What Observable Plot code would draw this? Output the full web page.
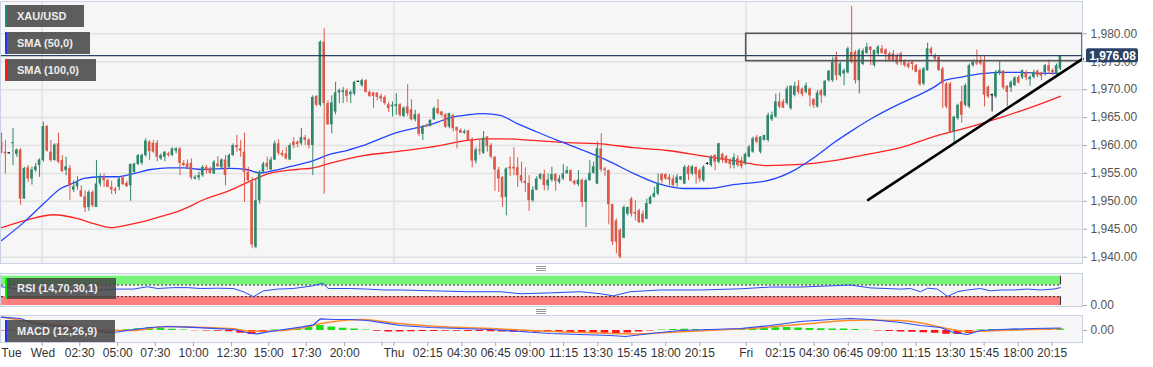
<!DOCTYPE html>
<html><head><meta charset="utf-8">
<script src="https://cdn.jsdelivr.net/npm/d3@7"></script>
<script src="https://cdn.jsdelivr.net/npm/@observablehq/plot@0.6"></script>
<style>
body{margin:0;background:#fff;font-family:"Liberation Sans",Arial,sans-serif;}
#wrap{position:relative;width:1153px;height:367px;overflow:hidden;}
#wrap svg{display:block;}
.lg{position:absolute;left:5px;background:rgba(68,68,68,0.86);color:#ececec;font:bold 11px "Liberation Sans",Arial,sans-serif;padding-left:12px;box-sizing:border-box;white-space:nowrap;}
.lg i{position:absolute;left:0;top:0;width:2px;height:100%;}
.grip{position:absolute;left:536px;width:10px;height:1px;background:#999;}
</style></head>
<body><div id="wrap"></div>
<script>
// ---------- candle data (15-minute XAU/USD) ----------
const open = [1960.6,1958.8,1958.6,1960.3,1958.4,1959.2,1950.4,1956.0,1954.0,1955.5,
1956.4,1957.3,1963.4,1958.8,1957.3,1960.3,1957.3,1955.5,1955.9,1952.0,
1952.6,1951.9,1950.8,1948.9,1951.6,1948.9,1953.1,1954.2,1953.7,1952.5,
1952.2,1952.5,1954.2,1953.2,1952.8,1955.2,1956.6,1956.8,1958.2,1960.6,
1960.4,1960.4,1957.6,1957.9,1958.5,1958.2,1959.0,1959.4,1956.8,1956.7,
1956.8,1954.0,
1954.2,1954.6,1956.1,1955.8,1954.9,1956.7,1956.0,1957.4,1956.1,1958.2,
1960.0,1959.4,1958.8,1955.2,1953.4,1941.8,1950.1,1955.2,1956.8,1955.6,
1957.4,1960.3,1958.6,1958.5,1957.4,1960.6,1960.6,1960.3,1961.4,1961.0,
1960.0,1968.8,1967.2,1978.5,1967.5,1963.7,1966.0,1969.4,1969.5,1969.8,
1969.1,1969.2,1971.4,1970.7,1971.6,1969.5,1969.4,1969.4,1968.8,1968.6,
1967.3,
1966.9,1967.0,1967.3,1965.2,1966.9,1966.4,1964.6,1965.5,1962.0,1963.6,
1963.4,1964.6,1966.6,1966.0,1965.5,1963.3,1965.4,1963.2,1962.7,1962.2,
1962.6,1961.0,1957.2,1959.2,1958.6,1961.5,1960.0,1957.9,1955.6,1954.3,
1950.7,1956.1,1956.1,1956.0,1954.6,1953.6,1953.2,1950.1,1952.0,1954.0,
1954.8,1952.8,1953.8,1954.8,1953.4,1954.0,1955.0,1955.5,1953.6,1953.0,
1953.8,1949.8,1953.7,1955.0,1953.1,1959.4,1955.8,1955.5,1949.4,
1946.5,1944.8,1943.4,1947.7,1950.4,1948.0,1948.3,1947.7,1946.8,1949.5,
1950.7,1951.3,1954.8,1954.8,1954.3,1954.0,1953.2,1953.8,1953.1,1956.1,
1954.9,1956.1,1955.5,1953.7,1956.7,1956.4,1958.2,1957.0,1958.4,1958.0,
1957.3,1956.4,1957.6,1957.3,1956.7,1957.9,1958.8,1961.4,1958.8,1960.9,
1960.9,1964.6,1965.1,1967.8,1967.8,1967.5,1966.6,1969.0,1970.6,1970.1,
1969.5,1970.1,1968.2,1966.9,1969.8,1968.9,1971.6,1971.6,1975.8,1972.5,
1972.8,1973.0,1976.7,1976.7,1971.6,1974.5,1976.5,1977.6,1974.3,1976.4,
1977.3,1977.1,1976.4,1976.4,1976.1,1976.4,1975.1,1974.6,1974.9,1974.3,
1973.4,1971.0,1973.4,1977.3,1976.1,1975.8,1973.7,1971.0,1971.0,1962.4,
1964.8,1967.8,1967.2,1966.9,1974.3,1974.9,1975.2,1974.9,1970.4,1969.0,
1968.7,1973.0,1973.3,1970.6,1970.3,1970.7,1972.2,1972.1,1973.0,1971.8,
1972.2,1973.3,1973.0,1973.0,1974.3,1973.4,1972.8,1973.7];
const high = [1962.2,1960.9,1958.7,1963.0,1959.4,1959.4,1956.1,1956.4,1956.1,1956.8,
1957.6,1964.2,1963.6,1960.9,1960.3,1962.2,1958.2,1957.9,1956.4,1953.7,
1954.4,1952.8,1951.9,1951.9,1951.9,1957.3,1954.9,1954.9,1954.0,1953.6,
1952.5,1954.4,1954.6,1953.6,1956.7,1956.8,1958.4,1958.5,1961.2,1960.9,
1960.9,1960.9,1958.5,1958.9,1958.8,1959.6,1959.6,1959.6,1957.3,1957.4,
1957.6,1954.6,
1955.2,1956.4,1956.4,1956.1,1957.3,1958.0,1957.6,1958.2,1958.5,1960.3,
1961.8,1960.9,1962.2,1956.1,1954.3,1954.0,1955.5,1957.0,1957.9,1957.9,
1960.8,1961.0,1959.1,1959.7,1960.3,1961.4,1960.8,1963.0,1961.8,1961.2,
1968.9,1968.9,1978.7,1980.9,1968.0,1968.9,1971.3,1970.1,1970.4,1970.1,
1969.8,1971.5,1971.5,1971.9,1971.8,1969.8,1969.5,1969.4,1969.2,1968.9,
1967.7,
1967.8,1969.3,1967.5,1966.9,1970.9,1968.2,1966.3,1965.7,1963.6,1963.8,
1964.6,1966.9,1968.2,1966.1,1965.7,1965.8,1965.5,1963.3,1963.0,1962.8,
1962.7,1961.4,1959.6,1960.9,1962.5,1961.6,1960.3,1958.0,1956.1,1954.4,
1956.0,1957.9,1959.6,1957.8,1957.0,1956.0,1954.6,1952.6,1954.4,1955.0,
1955.6,1954.9,1956.1,1955.0,1954.6,1956.6,1956.2,1955.6,1953.8,1955.5,
1954.0,1954.0,1957.3,1957.0,1960.6,1962.1,1956.1,1955.6,1949.5,
1946.8,1945.1,1949.2,1949.0,1950.7,1950.1,1948.6,1948.3,1950.4,1951.0,
1952.5,1954.9,1955.0,1954.9,1954.8,1954.6,1954.8,1954.4,1956.4,1956.4,
1956.4,1956.1,1955.8,1956.4,1956.9,1958.2,1958.4,1960.4,1958.6,1958.2,
1957.6,1958.5,1958.2,1957.9,1958.6,1960.0,1961.5,1961.8,1961.6,1961.8,
1965.8,1966.0,1969.2,1969.4,1968.2,1970.6,1970.7,1971.3,1971.6,1970.3,
1971.2,1970.3,1968.4,1969.8,1970.0,1971.6,1973.4,1975.8,1976.7,1974.9,
1973.7,1977.6,1984.9,1977.0,1977.3,1977.3,1978.3,1977.7,1977.1,1977.9,
1977.9,1977.3,1976.7,1977.0,1976.4,1976.7,1975.3,1974.9,1975.2,1974.5,
1973.7,1974.0,1978.3,1977.6,1976.4,1976.1,1974.0,1971.3,1971.3,1965.2,
1967.4,1970.6,1971.0,1974.6,1975.3,1977.1,1976.1,1976.1,1970.7,1969.2,
1973.4,1975.2,1973.4,1970.7,1971.6,1972.3,1972.5,1973.5,1973.4,1972.5,
1973.5,1973.5,1973.1,1974.5,1975.3,1973.7,1974.6,1976.1];
const low = [1958.5,1954.9,1958.5,1956.4,1957.9,1949.3,1950.4,1953.4,1952.9,1955.2,
1954.3,1957.0,1958.8,1957.0,1957.2,1956.7,1955.2,1954.6,1950.2,1951.6,
1952.0,1950.7,1948.0,1948.2,1948.9,1948.9,1952.6,1952.5,1952.4,1951.2,
1951.2,1951.9,1952.8,1952.5,1950.0,1955.0,1956.4,1956.4,1957.9,1957.3,
1958.6,1957.1,1957.3,1957.1,1957.9,1958.0,1958.5,1954.6,1956.2,1955.8,
1953.8,1953.8,
1953.7,1954.3,1954.9,1954.9,1954.8,1956.1,1955.8,1952.8,1955.8,1958.0,
1958.8,1957.9,1949.8,1953.4,1941.6,1941.5,1949.5,1954.9,1955.5,1955.5,
1957.3,1958.2,1957.9,1957.4,1957.3,1959.4,1959.6,1960.0,1960.0,1959.4,
1954.6,1966.9,1966.9,1951.3,1963.6,1962.1,1965.5,1967.5,1967.5,1967.7,
1967.5,1968.9,1971.3,1970.4,1969.4,1968.6,1966.6,1968.0,1967.7,1967.2,
1965.9,
1965.1,1965.4,1965.1,1965.0,1965.2,1964.4,1964.2,1961.6,1960.9,1963.2,
1963.3,1964.5,1965.4,1965.1,1963.0,1963.0,1962.4,1959.4,1962.2,1962.0,
1960.8,1956.0,1956.7,1958.2,1958.4,1958.8,1957.6,1951.8,1951.6,1948.9,
1947.4,1954.4,1954.6,1952.5,1953.2,1951.6,1948.2,1949.8,1951.9,1953.8,
1951.9,1951.9,1953.4,1951.8,1953.1,1953.7,1954.8,1953.4,1952.8,1952.6,
1948.9,1945.3,1953.6,1954.9,1953.0,1955.2,1954.4,1945.8,1942.1,
1940.6,1939.7,1943.3,1947.4,1947.2,1946.5,1946.0,1946.0,1946.7,1949.4,
1950.6,1951.0,1953.1,1953.8,1952.8,1952.5,1952.5,1953.7,1953.0,1953.7,
1954.6,1953.1,1953.4,1953.4,1956.5,1956.1,1955.5,1956.7,1956.8,1956.7,
1955.8,1955.8,1956.1,1955.8,1956.4,1957.8,1958.6,1960.3,1958.5,1960.8,
1960.6,1964.3,1964.9,1966.6,1966.6,1967.2,1966.3,1968.7,1969.1,1968.7,
1969.2,1966.9,1966.6,1966.7,1967.5,1968.7,1971.3,1971.3,1971.6,1972.2,
1970.7,1972.8,1974.6,1971.0,1969.2,1974.3,1976.3,1974.3,1974.0,1976.1,
1976.4,1974.9,1974.9,1974.9,1974.3,1974.3,1974.0,1973.7,1973.4,1973.0,
1970.6,1970.7,1973.3,1976.1,1975.1,1973.3,1966.6,1966.6,1962.2,1960.3,
1964.5,1964.0,1966.9,1966.6,1974.0,1974.3,1974.3,1966.9,1968.4,1966.0,
1968.4,1972.5,1970.0,1966.9,1969.5,1970.6,1971.0,1971.8,1971.6,1970.6,
1971.9,1972.1,1971.6,1972.4,1972.7,1972.5,1972.7,1973.4];
const close = [1958.8,1958.5,1958.6,1960.5,1959.2,1950.4,1955.9,1954.0,1955.6,1956.2,
1957.4,1963.4,1959.0,1957.3,1960.1,1957.0,1955.3,1956.2,1952.8,1952.6,
1953.4,1950.8,1948.8,1951.6,1949.2,1953.1,1954.2,1953.7,1952.5,1952.0,
1951.8,1954.0,1953.0,1952.6,1956.6,1956.7,1958.2,1958.2,1960.8,1958.9,
1958.8,1957.9,1958.2,1958.8,1958.2,1959.4,1959.4,1956.8,1956.4,1956.0,
1954.2,1954.3,
1954.6,1956.1,1955.5,1955.0,1957.0,1956.2,1957.4,1954.6,1958.2,1960.0,
1959.6,1959.0,1955.2,1953.7,1942.2,1950.1,1955.2,1956.7,1956.1,1957.4,
1960.3,1958.6,1958.2,1957.6,1960.0,1960.0,1960.2,1961.4,1960.9,1960.0,
1968.6,1967.2,1978.5,1967.5,1963.7,1967.6,1969.4,1969.8,1969.8,1968.8,
1969.5,1971.3,1971.4,1971.6,1969.5,1968.8,1968.8,1968.6,1968.3,1967.5,
1966.6,
1967.2,1967.3,1965.4,1966.7,1965.7,1964.6,1965.5,1962.0,1963.4,1963.3,
1964.5,1966.6,1965.7,1965.4,1963.3,1965.7,1963.0,1962.6,1962.2,1962.5,
1960.9,1957.2,1959.2,1959.0,1961.3,1959.8,1957.9,1955.6,1954.0,1950.6,
1955.8,1955.8,1955.8,1954.6,1953.6,1953.2,1950.1,1952.0,1954.0,1954.8,
1952.8,1953.8,1954.8,1953.6,1954.0,1954.9,1955.5,1953.6,1953.1,1953.8,
1949.8,1953.7,1955.0,1956.2,1959.4,1955.6,1955.5,1949.4,1942.7,
1942.7,1940.0,1948.9,1948.9,1947.7,1947.7,1946.2,1946.2,1949.6,1950.7,
1951.4,1953.2,1953.7,1954.0,1953.8,1952.8,1954.3,1954.4,1956.1,1954.8,
1956.2,1954.8,1954.0,1956.1,1956.7,1957.9,1957.0,1960.3,1957.3,1956.8,
1956.6,1957.8,1956.4,1956.2,1958.4,1959.7,1961.2,1960.6,1961.5,1961.8,
1965.4,1965.4,1967.8,1966.9,1966.7,1970.1,1970.6,1970.6,1969.5,1969.1,
1970.7,1968.9,1967.2,1969.4,1968.9,1971.5,1973.3,1974.9,1972.5,1974.6,
1973.4,1977.3,1974.9,1971.6,1977.0,1976.9,1977.6,1977.0,1977.0,1977.6,
1976.5,1976.3,1975.3,1975.2,1974.6,1974.9,1974.3,1974.0,1974.5,1973.1,
1970.9,1973.7,1977.3,1976.4,1975.5,1973.4,1971.0,1966.9,1962.4,1965.1,
1967.2,1965.4,1970.7,1974.3,1974.9,1974.6,1974.6,1969.0,1968.7,1969.0,
1973.1,1973.4,1970.3,1969.5,1971.3,1972.1,1971.2,1973.4,1972.1,1972.2,
1973.1,1972.5,1972.4,1974.3,1973.3,1973.0,1974.3,1976.08];

// ---------- moving averages (read at sample candles) ----------
const sma50Idx = [0,6.3,11.1,15.6,18.7,21.7,26.1,30.6,34.9,39.4,43.9,48.1,52.6,60.0,64.5,67.9,71.6,75.9,82.2,86.4,90.9,95.4,99.7,104.1,113.8,118.3,122.8,127.0,131.4,135.9,140.1,146.5,153.4,159.7,166.5,172.8,179.7,186.0,192.8,201.8,208.7,214.0,219.3,224.4,229.7,235.0,240.3,245.6,248.3,252.6,258.7,263.2,268.5,274.6,279];
const sma50Val = [1943.0,1946.5,1949.6,1952.3,1953.2,1954.1,1954.4,1954.4,1955.0,1955.7,1956.0,1956.0,1955.7,1955.9,1955.7,1955.1,1955.5,1956.2,1957.3,1958.4,1959.1,1960.0,1961.2,1962.3,1963.9,1965.0,1965.5,1965.7,1965.4,1963.9,1962.7,1960.9,1959.1,1957.3,1955.0,1953.2,1952.3,1952.3,1953.0,1953.7,1955.5,1957.8,1960.5,1962.8,1965.0,1966.9,1968.6,1970.4,1971.6,1972.2,1972.9,1973.1,1973.1,1972.9,1972.9];
const sma100Idx = [0,6.85,13.7,20.1,24.3,28.8,33.3,37.5,42.0,46.5,49.9,52.6,60.0,65.8,70.6,77.7,82.2,86.4,95.4,104.1,113.8,122.8,127.0,131.4,140.1,149.1,157.9,166.5,175.5,184.2,192.8,201.8,210.5,219.3,228.1,236.9,245.6,254.5,263.2,272.0,279];
const sma100Val = [1945.3,1946.7,1947.6,1946.9,1946.0,1945.3,1945.8,1946.4,1947.3,1948.2,1949.2,1950.1,1951.9,1953.7,1955.0,1955.7,1956.0,1956.8,1958.2,1958.9,1959.8,1960.9,1961.2,1961.2,1960.9,1960.5,1960.3,1959.6,1959.1,1958.2,1957.3,1956.4,1956.6,1957.3,1958.4,1959.6,1961.6,1963.2,1965.0,1967.0,1968.8];

// ---------- RSI (14,70,30,1) ----------
const rsiIdx = [0,4.2,8.4,12.9,17.4,22.6,26.1,30.5,34.8,38.4,41.1,45.3,49.0,52.4,56.9,61.1,63.7,66.4,69.0,72.7,76.9,81.9,84.6,86.1,91.9,96.4,100.6,105.1,113.8,122.8,131.5,136.7,144.6,152.5,157.8,161.2,165.7,173.6,184.2,194.7,202.6,210.5,218.4,223.7,228.9,236.9,239.5,242.1,244.0,246.6,249.3,251.9,254.5,257.9,260.6,263.2,266.6,270.3,273.8,277.2,279];
const rsiVal = [64,56,53,56,56,50,53,56,56,64,58,61,61,58,59,58,47,30,50,56,58,67,76,58,58,56,53,53,50,47,47,40,43,47,40,33,47,53,53,57,63,63,67,70,60,56,58,47,59,56,31,47,53,58,50,53,53,56,53,56,61];
const rsiLevels = [30, 70];

// ---------- MACD (12,26,9) ----------
const macdIdx = [0,5.0,8.4,17.4,24.2,27.9,30.5,34.8,39.2,43.7,49.0,54.3,61.1,65.6,67.4,70.1,74.3,78.8,82.2,84.0,87.5,91.9,96.4,100.6,105.1,113.0,120.9,128.8,136.7,144.6,152.5,160.4,164.4,171.0,178.9,186.8,194.7,202.6,210.5,218.4,223.7,228.9,234.2,236.9,242.1,247.4,250.8,254.5,257.9,263.2,271.9,279.0];
const macdVal = [2.66,2.4,1.4,0.6,0,-0.4,-0.3,0.2,0.6,0.8,0.66,0.46,0.2,-0.6,-0.66,-0.26,0.2,0.66,1.14,2.34,2.2,2.2,2.0,1.54,1.0,0.6,0.4,0.2,-0.2,-0.6,-0.8,-1.0,-1.2,-0.6,0,0.2,0.4,1.0,1.8,2.2,2.4,2.2,1.8,1.6,1.0,0.6,-0.4,-0.8,0,0.2,0.4,0.5];
const signalIdx = [0,8.9,17.7,26.6,34.5,43.4,52.2,61.1,66.0,70.0,78.8,83.8,87.7,94.6,100.5,105.4,113.3,121.2,129.1,137.0,144.9,152.8,160.6,167.5,175.4,183.3,191.2,199.1,207.0,214.8,222.7,228.6,234.5,236.5,243.4,249.3,254.3,258.2,263.1,272.0,279.0];
const signalVal = [2.66,1.66,0.86,0,0,0.8,0.66,0.33,-0.13,-0.13,0.46,1.33,1.8,2.2,1.8,1.33,0.9,0.6,0.4,0.1,-0.2,-0.4,-0.6,-0.7,-0.4,-0.1,0.2,0.5,1.0,1.5,2.0,2.1,2.0,2.0,1.33,0.33,-0.2,-0.13,0,0.2,0.33];
const histIdx = [0,3,6,9,12,15,18,21,24,27,30,33,36,39,42,45,48,51,54,57,60,63,66,69,72,75,78,81,84,87,90,93,96,99,102,105,108,111,114,117,120,123,126,129,132,135,138,141,144,147,150,153,156,159,162,165,168,171,174,177,180,183,186,189,192,195,198,201,204,207,210,213,216,219,222,225,228,231,234,237,240,243,246,249,252,255,258,261,264,267,270,273,276,279];
const histVal = [-0.1,-0.1,-0.15,-0.2,-0.2,-0.15,-0.1,-0.1,-0.15,-0.1,
0.05,0.15,0.35,0.55,0.45,0.25,0.1,-0.05,-0.1,-0.15,
-0.25,-0.55,-0.8,-0.45,0.1,0.2,0.35,0.7,1.0,0.7,
0.45,0.3,0.1,-0.15,-0.3,-0.3,-0.25,-0.2,-0.2,-0.15,
-0.15,-0.2,-0.2,-0.25,-0.3,-0.35,-0.3,-0.35,-0.4,-0.4,
-0.45,-0.4,-0.45,-0.55,-0.6,-0.5,-0.3,-0.1,0.1,0.2,
0.25,0.2,0.2,0.15,0.2,0.3,0.35,0.45,0.55,0.6,
0.5,0.4,0.35,0.3,0.3,0.2,0.05,-0.1,-0.2,-0.3,
-0.35,-0.45,-0.55,-0.75,-0.8,-0.6,0.1,0.2,0.2,0.25,
0.2,0.2,0.25,0.3];

// ---------- axes, annotations ----------
const priceTicks = [1940,1945,1950,1955,1960,1965,1970,1975,1980];
const lastPrice = 1976.08;
const dayStartIdx = [10.7, 103.4, 196.2];
const timeLabels = ["Tue","Wed","02:30","05:00","07:30","10:00","12:30","15:00","17:30","20:00","Thu","02:15","04:30","06:45","09:00","11:15","13:30","15:45","18:00","20:15","Fri","02:15","04:30","06:45","09:00","11:15","13:30","15:45","18:00","20:15"];
const timeLabelIdx = [2.6,10.9,20.6,30.6,40.5,50.6,60.6,70.4,80.3,90.4,103.4,112.3,121.3,130.2,139.2,148.1,157.1,166.1,175.0,184.0,196.2,205.2,214.1,223.1,232.0,241.0,250.0,258.9,267.9,276.8];
const timeTickIdx = [10.7,20.6,30.6,40.5,50.6,60.6,70.4,80.3,90.4,100.3,103.4,112.3,121.3,130.2,139.2,148.1,157.1,166.1,175.0,184.0,196.2,205.2,214.1,223.1,232.0,241.0,250.0,258.9,267.9,276.8];
const zoneIdx = [196.2, 284.82];
const zonePrice = [1975.1, 1980.0];
const trendIdx = [228.35, 284.82];
const trendPrice = [1950.25, 1975.52];

// ---------- build ----------
const GREEN = "#2f876c", RED = "#dc5848", DOJI = "#111";
const xDomain = [-0.29, 284.82];
const W = 1153, MR = 71;
const FONT = "'Liberation Sans', Arial, sans-serif";
const candles = close.map((c, i) => ({i, o: open[i], h: high[i], l: low[i], c}));
const colorOf = d => d.c > d.o ? GREEN : d.c < d.o ? RED : DOJI;
const bodyLo = d => { const lo = Math.min(d.o, d.c), hi = Math.max(d.o, d.c); return hi - lo < 0.2 ? (lo + hi) / 2 - 0.1 : lo; };
const bodyHi = d => { const lo = Math.min(d.o, d.c), hi = Math.max(d.o, d.c); return hi - lo < 0.2 ? (lo + hi) / 2 + 0.1 : hi; };
const pts = (xs, ys) => xs.map((x, k) => ({i: x, v: ys[k]}));
const sma50 = pts(sma50Idx, sma50Val), sma100 = pts(sma100Idx, sma100Val);
const rsi = pts(rsiIdx, rsiVal), macd = pts(macdIdx, macdVal), signal = pts(signalIdx, signalVal), hist = pts(histIdx, histVal);
const trend = pts(trendIdx, trendPrice);
const labels = timeLabels.map((t, k) => ({i: timeLabelIdx[k], t}));
const lastIdx = candles.length - 1;
const fmt2 = d3.format(",.2f");
const frameStroke = "#c9d2e3";
const baseStyle = {background: "transparent", fontFamily: FONT, fontSize: "12px", overflow: "visible"};
const rightAxis = (ticks, f) => Plot.axisY(ticks, {anchor: "right", label: null, tickSize: 4, tickPadding: 4, tickFormat: f, color: "#555", stroke: "#aaa", fontSize: 12});

const mainChart = Plot.plot({
  width: W, height: 266, marginLeft: 0, marginRight: MR, marginTop: 1, marginBottom: 3,
  style: baseStyle,
  x: {domain: xDomain, axis: null},
  y: {domain: [1938.87, 1985.78], axis: null, label: null},
  color: {type: "identity"},
  marks: [
    Plot.frame({fill: "#f6f6f6", stroke: "none"}),
    Plot.ruleY(priceTicks, {stroke: "#e2e2e2", strokeWidth: 1.5}),
    Plot.ruleX(dayStartIdx, {stroke: "#e2e2e2", strokeWidth: 1.5}),
    Plot.line(sma100, {x: "i", y: "v", stroke: "#ff2222", strokeWidth: 1.3, curve: "monotone-x"}),
    Plot.line(sma50, {x: "i", y: "v", stroke: "#2244ff", strokeWidth: 1.3, curve: "monotone-x"}),
    Plot.ruleX(candles, {x: "i", y1: "l", y2: "h", stroke: colorOf, strokeWidth: 1}),
    Plot.rect(candles, {x1: d => d.i - 0.34, x2: d => d.i + 0.34, y1: bodyLo, y2: bodyHi, fill: colorOf}),
    Plot.ruleY([lastPrice], {stroke: "#2b4466", strokeWidth: 1.2}),
    Plot.rect([0], {x1: zoneIdx[0], x2: zoneIdx[1], y1: zonePrice[0], y2: zonePrice[1], fill: "none", stroke: "#555", strokeWidth: 1.6}),
    Plot.line(trend, {x: "i", y: "v", stroke: "#000", strokeWidth: 2.6}),
    Plot.frame({stroke: frameStroke}),
    rightAxis(priceTicks, fmt2),
    Plot.rect([lastPrice], {x1: xDomain[1], x2: xDomain[1], y1: d => d, y2: d => d, insetLeft: 4, insetRight: -56, insetTop: -7, insetBottom: -7, fill: "#2b4466", rx: 2}),
    Plot.text([lastPrice], {x: xDomain[1], y: d => d, dx: 30, text: d => fmt2(d), fill: "white", fontWeight: "bold", fontSize: 12})
  ]
});

const rsiChart = Plot.plot({
  width: W, height: 42, marginLeft: 0, marginRight: MR, marginTop: 7, marginBottom: 2,
  style: baseStyle,
  x: {domain: xDomain, axis: null},
  y: {domain: [-3.4, 109.2], axis: null, label: null},
  marks: [
    Plot.frame({fill: "#f6f6f6", stroke: "none"}),
    Plot.rect([0], {x1: 0, x2: lastIdx, y1: rsiLevels[1], y2: 100, fill: "#78f478"}),
    Plot.rect([0], {x1: 0, x2: lastIdx, y1: 0, y2: rsiLevels[0], fill: "#ff7f7f"}),
    Plot.ruleY(rsiLevels, {x1: 0, x2: lastIdx, stroke: "#222", strokeDasharray: "2,2"}),
    Plot.ruleX([lastIdx], {y1: rsiLevels[1], y2: 100, stroke: "#222"}),
    Plot.ruleX([lastIdx], {y1: 0, y2: rsiLevels[0], stroke: "#222"}),
    Plot.line(rsi, {x: "i", y: "v", stroke: "#2a4cf0", strokeWidth: 1}),
    Plot.frame({stroke: frameStroke}),
    rightAxis([0], d3.format(".2f"))
  ]
});

const macdChart = Plot.plot({
  width: W, height: 59, marginLeft: 0, marginRight: MR, marginTop: 7, marginBottom: 25,
  style: baseStyle,
  x: {domain: xDomain, axis: null},
  y: {domain: [-2.4, 3.0], axis: null, label: null},
  color: {type: "identity"},
  marks: [
    Plot.frame({fill: "#f6f6f6", stroke: "none"}),
    Plot.rect(hist, {x1: d => d.i - 1, x2: d => d.i + 1, y1: 0, y2: "v", fill: d => d.v >= 0 ? "#19e019" : "#ff1414"}),
    Plot.line(signal, {x: "i", y: "v", stroke: "#ff8a2b", strokeWidth: 1.5, curve: "monotone-x"}),
    Plot.line(macd, {x: "i", y: "v", stroke: "#2e4dff", strokeWidth: 1.2}),
    Plot.frame({stroke: frameStroke}),
    rightAxis([0], d3.format(".2f")),
    Plot.ruleX(timeTickIdx, {y1: -2.4, y2: -2.4, insetBottom: -4, stroke: "#aaa"}),
    Plot.text(labels, {x: "i", text: "t", frameAnchor: "bottom", dy: 14, fill: "#333", fontSize: 12})
  ]
});

const wrap = document.getElementById("wrap");
wrap.append(mainChart, rsiChart, macdChart);

// legend tags
const tags = [
  {t: "XAU/USD", top: 5, h: 22, w: 79, c: "#2f876c"},
  {t: "SMA (50,0)", top: 32, h: 22, w: 85, c: "#2233ff"},
  {t: "SMA (100,0)", top: 59, h: 22, w: 91, c: "#ff1a1a"},
  {t: "RSI (14,70,30,1)", top: 278, h: 21, w: 111, c: "#00ee00"},
  {t: "MACD (12,26,9)", top: 320, h: 22, w: 110, c: "#2233ff"}
];
for (const g of tags) {
  const el = document.createElement("div");
  el.className = "lg";
  el.style.top = g.top + "px"; el.style.height = g.h + "px"; el.style.width = g.w + "px"; el.style.lineHeight = g.h + "px";
  el.innerHTML = `<i style="background:${g.c}"></i>${g.t}`;
  wrap.append(el);
}
for (const y of [266, 268, 270, 309, 311, 313]) {
  const el = document.createElement("div");
  el.className = "grip"; el.style.top = y + "px";
  wrap.append(el);
}
</script>
</body></html>
